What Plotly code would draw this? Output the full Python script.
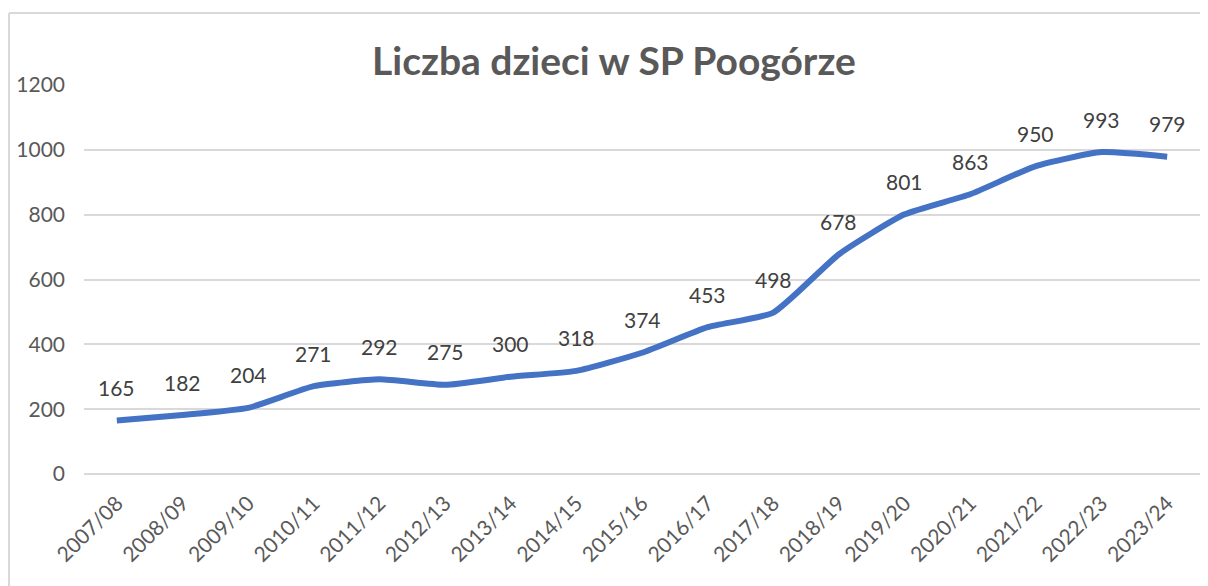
import plotly.graph_objects as go

years = ["2007/08", "2008/09", "2009/10", "2010/11", "2011/12", "2012/13",
         "2013/14", "2014/15", "2015/16", "2016/17", "2017/18", "2018/19",
         "2019/20", "2020/21", "2021/22", "2022/23", "2023/24"]
children = [165, 182, 204, 271, 292, 275, 300, 318, 374, 453, 498, 678,
            801, 863, 950, 993, 979]
y_ticks = [0, 200, 400, 600, 800, 1000, 1200]

# page body adds an 8px offset, so the figure is sized to fit the window
W, H = 1200, 578
L, R, T, B = 76, 8, 77, 112
font = "Lato, 'Open Sans', sans-serif"

fig = go.Figure()
fig.add_trace(go.Scatter(
    x=years, y=children, mode="lines",
    line=dict(color="#4472C4", width=6, shape="spline", smoothing=0.5),
    hoverinfo="x+y",
))

for x, y in zip(years, children):
    fig.add_annotation(x=x, y=y, text=str(y), showarrow=False, yshift=33,
                       font=dict(family=font, size=21, color="#404040"))

pw, ph = W - L - R, H - T - B
fig.add_annotation(xref="paper", yref="paper", x=(606 - L) / pw, y=(H - B - 52) / ph,
                   text="<b>Liczba dzieci w SP Poogórze</b>", showarrow=False,
                   xanchor="center", yanchor="middle",
                   font=dict(family=font, size=39, color="#595959"))

# chart area border (top and left edges visible)
bx, by = (1 - L) / pw, (H - B - 5) / ph
fig.add_shape(type="line", xref="paper", yref="paper",
              x0=bx, x1=1.0 + R / pw, y0=by, y1=by,
              line=dict(color="#D9D9D9", width=2))
fig.add_shape(type="line", xref="paper", yref="paper",
              x0=bx, x1=bx, y0=by, y1=-B / ph,
              line=dict(color="#D9D9D9", width=2))

fig.update_layout(
    width=W, height=H,
    margin=dict(l=L, r=R, t=T, b=B),
    plot_bgcolor="white", paper_bgcolor="white",
    showlegend=False,
    font=dict(family=font, size=21, color="#595959"),
    xaxis=dict(type="category", range=[-0.5, len(years) - 0.5], tickangle=-45,
               showgrid=False, showline=False, ticks="", ticklen=0,
               ticklabelstandoff=12,
               tickfont=dict(size=21, color="#595959")),
    yaxis=dict(range=[0, 1200], tickvals=y_ticks, showgrid=True,
               gridcolor="#D9D9D9", gridwidth=1.5, zeroline=True,
               zerolinecolor="#D9D9D9", zerolinewidth=1.5, ticks="",
               ticklabelstandoff=18,
               tickfont=dict(size=21, color="#595959")),
)

fig.write_html("out.html")
